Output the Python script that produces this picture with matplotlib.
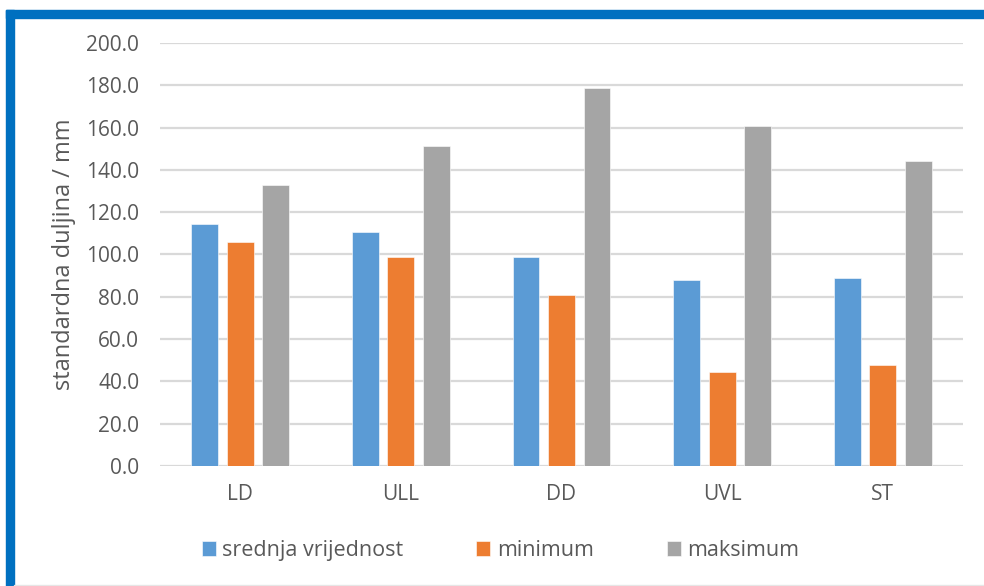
import numpy as np
import matplotlib.pyplot as plt
from matplotlib.patches import Rectangle

categories = ['LD', 'ULL', 'DD', 'UVL', 'ST']
srednja = [114.5, 110.5, 99.0, 88.0, 88.7]
minimum = [106.0, 99.0, 80.8, 44.6, 47.6]
maksimum = [133.0, 151.2, 178.6, 160.8, 144.3]
series_names = ['srednja vrijednost', 'minimum', 'maksimum']
colors = ['#5B9BD5', '#ED7D31', '#A5A5A5']

plt.rcParams['font.family'] = ['Open Sans', 'DejaVu Sans']
text_col = '#595959'

fig = plt.figure(figsize=(9.84, 5.86), dpi=100)
ax = fig.add_axes([160/984, 1-466/586, (963-160)/984, (466-43)/586])

x = np.arange(len(categories))
w = 0.168
step = 0.221
for i, (vals, name, c) in enumerate(zip([srednja, minimum, maksimum], series_names, colors)):
    ax.bar(x + (i-1)*step, vals, width=w, color=c, label=name, zorder=3,
           edgecolor='white', linewidth=0.4)

ax.set_xlim(-0.5, len(categories)-0.5)
ax.set_ylim(0, 200)
ax.set_yticks(np.arange(0, 201, 20))
ax.set_yticklabels(['%.1f' % v for v in np.arange(0, 201, 20)])
ax.set_xticks(x)
ax.set_xticklabels(categories)
ax.grid(axis='y', color='#d9d9d9', linewidth=1.6, zorder=0)
for s in ax.spines.values():
    s.set_visible(False)
ax.tick_params(axis='both', length=0, colors=text_col, labelsize=15)
ax.tick_params(axis='y', pad=15)
ax.tick_params(axis='x', pad=13)
ax.set_ylabel('standardna duljina / mm', color=text_col, fontsize=17, labelpad=7)

ax.legend(loc='center', bbox_to_anchor=(0.424, -0.2), ncol=3, frameon=False,
          fontsize=15.5, labelcolor=text_col, handlelength=0.65, handleheight=0.65,
          handletextpad=0.3, columnspacing=3.4)

# blue frame (left and top) and faint bottom line
fig.patches.append(Rectangle((6/984, 0), 8/984, 1-10/586, transform=fig.transFigure,
                             color='#0070C0', zorder=10))
fig.patches.append(Rectangle((6/984, 1-18/586), 1, 8/586, transform=fig.transFigure,
                             color='#0070C0', zorder=10))
fig.patches.append(Rectangle((14/984, 0), 1, 1.2/586, transform=fig.transFigure,
                             color='#e6e6e6', zorder=10))

plt.savefig('out.png', dpi=100)
